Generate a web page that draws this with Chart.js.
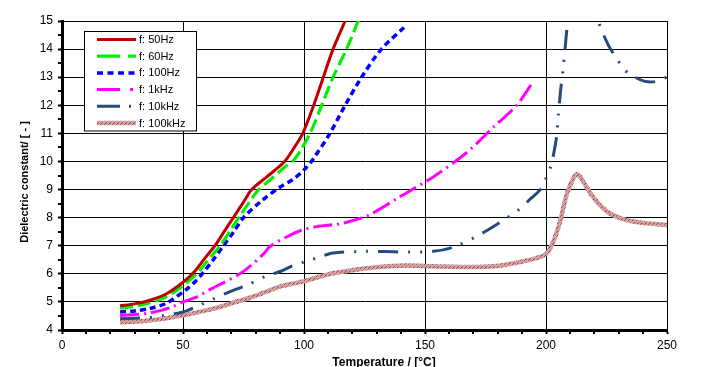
<!DOCTYPE html>
<html>
<head>
<meta charset="utf-8">
<script src="https://cdn.jsdelivr.net/npm/chart.js@4.4.1/dist/chart.umd.min.js"></script>
<style>
html,body{margin:0;padding:0;background:#fff;}
#wrap{width:712px;height:367px;position:relative;}
</style>
</head>
<body>
<div id="wrap"><canvas id="c" width="712" height="367"></canvas></div>
<script>
// ---------- data ----------
const seriesLabels = ['f: 50Hz', 'f: 60Hz', 'f: 100Hz', 'f: 1kHz', 'f: 10kHz', 'f: 100kHz'];

const t50  = [24, 30, 36, 43, 50, 55, 59, 63.2, 67, 70.8, 75, 78.4, 84.6, 92, 96, 99.5, 104, 108, 112, 117, 119];
const v50  = [4.86, 4.93, 5.05, 5.28, 5.7, 6.1, 6.55, 7.0, 7.5, 8.0, 8.55, 9.0, 9.45, 10.0, 10.5, 11.0, 12.0, 13.0, 14.0, 15.0, 15.4];

const t60  = [24, 30, 36, 43, 50, 55.6, 60, 65.3, 70, 73.5, 77, 81, 87, 92, 96.3, 102.5, 107.3, 112, 117.6, 122.4, 124];
const v60  = [4.78, 4.84, 4.96, 5.18, 5.58, 6.0, 6.45, 7.0, 7.6, 8.06, 8.5, 8.97, 9.42, 9.8, 10.1, 11.0, 12.0, 13.0, 14.0, 15.0, 15.3];

const t100 = [24, 30, 36, 43, 51.5, 55, 58.4, 62.5, 66.7, 71, 75, 82.5, 90, 95.6, 100, 103.9, 110.7, 117, 123.8, 132, 141.7];
const v100 = [4.64, 4.68, 4.76, 4.95, 5.45, 5.72, 6.05, 6.5, 7.0, 7.5, 8.0, 8.6, 9.08, 9.37, 9.7, 10.1, 11.0, 12.0, 13.0, 14.0, 14.8];

const t1k  = [24, 30, 35.6, 41, 45, 50, 55, 62.5, 66, 73.5, 77, 83.2, 86, 93, 99, 105.2, 116, 127, 139.7, 153.4, 167, 178, 187.9, 194];
const v1k  = [4.52, 4.55, 4.6, 4.7, 4.8, 5.0, 5.15, 5.5, 5.65, 6.0, 6.22, 6.7, 6.98, 7.32, 7.55, 7.68, 7.8, 8.1, 8.75, 9.45, 10.3, 11.2, 12.0, 12.75];

const t10k = [24, 30, 35.6, 42, 50, 56, 63.2, 69, 77, 84, 90.7, 95.6, 100, 106.6, 112, 126, 139.7, 153.4, 161.7, 174, 187.9, 194, 198.2, 200, 201.9, 203, 204.4, 205.1, 206, 207.2, 208.5, 210, 214, 218, 221.6, 225.7, 229.2, 232.6, 236.8, 240.9, 245.7, 250];
const v10k = [4.4, 4.42, 4.44, 4.52, 4.64, 4.85, 5.13, 5.35, 5.62, 5.9, 6.1, 6.3, 6.42, 6.6, 6.74, 6.8, 6.78, 6.8, 6.95, 7.46, 8.23, 8.7, 9.05, 9.4, 9.8, 10.2, 10.9, 11.65, 12.5, 13.4, 14.6, 15.8, 17.0, 16.2, 15.0, 14.15, 13.67, 13.25, 13.0, 12.85, 12.85, 13.0];

const t100k = [24, 30, 35.6, 43, 50, 56, 63.2, 70, 77, 84, 90.7, 100, 106.6, 112, 126, 139.7, 153.4, 167, 180.9, 189.3, 194.8, 200, 203, 205.8, 208.5, 211.3, 213, 215.4, 218.8, 222.3, 226.4, 233.3, 241.6, 250];
const v100k = [4.28, 4.3, 4.34, 4.42, 4.52, 4.63, 4.77, 4.95, 5.13, 5.35, 5.56, 5.74, 5.9, 6.02, 6.2, 6.29, 6.27, 6.24, 6.29, 6.42, 6.53, 6.7, 7.15, 7.86, 8.81, 9.4, 9.55, 9.28, 8.81, 8.45, 8.15, 7.91, 7.8, 7.74];

const xTickValues = [0, 50, 100, 150, 200, 250];
const yTickValues = [4, 5, 6, 7, 8, 9, 10, 11, 12, 13, 14, 15];
const xMinorTicks = [10, 20, 30, 40, 60, 70, 80, 90, 110, 120, 130, 140, 160, 170, 180, 190, 210, 220, 230, 240];
const yMinorTicks = [4.5, 5.5, 6.5, 7.5, 8.5, 9.5, 10.5, 11.5, 12.5, 13.5, 14.5];
const xTitle = 'Temperature / [°C]';
const yTitle = 'Dielectric constant/ [ - ]';

// ---------- styling ----------
const FONT = "'Liberation Sans', Arial, Helvetica, sans-serif";

function makeHatch() {
  const c = document.createElement('canvas');
  c.width = 4; c.height = 4;
  const g = c.getContext('2d');
  g.fillStyle = '#cfa3a3'; g.fillRect(0, 0, 4, 4);
  g.fillStyle = '#b35a5a';
  g.fillRect(0, 0, 1, 1); g.fillRect(2, 2, 1, 1);
  g.fillStyle = '#a03030';
  g.fillRect(1, 3, 1, 1);
  return document.getElementById('c').getContext('2d').createPattern(c, 'repeat');
}
const hatch = makeHatch();

function pts(xs, ys) { return xs.map((x, i) => ({ x: x, y: ys[i] })); }

const seriesData = [pts(t50, v50), pts(t60, v60), pts(t100, v100), pts(t1k, v1k), pts(t10k, v10k), pts(t100k, v100k)];
const colors = ['#c00000', '#00f000', '#0000ff', '#ff00ff', '#244a7e', hatch];
const widths = [3, 3.2, 3.5, 3, 3, 4.5];
const dashes = [[], [13, 5], [6, 4], [19, 5, 2, 5], [20, 10, 2, 10, 2, 10], []];
const legendDashes = [[], [23, 8], [6, 4.5], [23, 10, 3, 10], [23, 9, 2, 10], []];

const datasets = seriesData.map((d, i) => ({
  label: seriesLabels[i],
  data: d,
  borderColor: colors[i],
  backgroundColor: colors[i],
  borderWidth: widths[i],
  borderDash: dashes[i],
  borderCapStyle: 'butt',
  borderJoinStyle: 'round',
  pointRadius: 0,
  pointHoverRadius: 0,
  fill: false,
  tension: 0.3
}));

const decor = {
  id: 'decor',
  afterDraw(chart) {
    const ctx = chart.ctx, xs = chart.scales.x, ys = chart.scales.y, a = chart.chartArea;
    ctx.save();
    // minor ticks
    ctx.setLineDash([]);
    ctx.strokeStyle = '#000';
    ctx.lineWidth = 2;
    xMinorTicks.forEach(v => {
      const px = Math.round(xs.getPixelForValue(v));
      ctx.beginPath(); ctx.moveTo(px, a.bottom); ctx.lineTo(px, a.bottom + 4); ctx.stroke();
    });
    yMinorTicks.forEach(v => {
      const py = Math.round(ys.getPixelForValue(v));
      ctx.beginPath(); ctx.moveTo(a.left - 4, py); ctx.lineTo(a.left, py); ctx.stroke();
    });

    // legend box
    const bx = 84.5, by = 31.5, bw = 112, bh = 99.5;
    ctx.fillStyle = '#fff';
    ctx.fillRect(bx, by, bw, bh);
    ctx.lineWidth = 1;
    ctx.strokeStyle = '#000';
    ctx.strokeRect(bx, by, bw, bh);
    chart.data.datasets.forEach((ds, i) => {
      const y = 39.5 + i * 16.7;
      ctx.beginPath();
      ctx.setLineDash(legendDashes[i]);
      ctx.lineCap = 'butt';
      ctx.strokeStyle = ds.borderColor;
      ctx.lineWidth = ds.borderWidth;
      ctx.moveTo(97, y); ctx.lineTo(136, y);
      ctx.stroke();
      ctx.setLineDash([]);
      ctx.fillStyle = '#000';
      ctx.font = '11px ' + FONT;
      ctx.textAlign = 'left';
      ctx.textBaseline = 'middle';
      ctx.fillText(ds.label, 139, y + 0.5);
    });

    // axis titles
    ctx.fillStyle = '#000';
    ctx.font = 'bold 12px ' + FONT;
    ctx.textAlign = 'center';
    ctx.textBaseline = 'middle';
    ctx.fillText(xTitle, 384, 363);
    ctx.save();
    ctx.translate(25, 182);
    ctx.rotate(-Math.PI / 2);
    ctx.font = 'bold 11px ' + FONT;
    ctx.fillText(yTitle, 0, 0);
    ctx.restore();
    ctx.restore();
  }
};

new Chart(document.getElementById('c'), {
  type: 'line',
  data: { datasets: datasets },
  options: {
    responsive: false,
    animation: false,
    devicePixelRatio: 1,
    layout: { padding: { top: 21, right: 45, left: 0, bottom: 0 } },
    plugins: { legend: { display: false }, tooltip: { enabled: false }, title: { display: false } },
    scales: {
      x: {
        type: 'linear',
        min: 0, max: 250,
        afterFit(s) { s.height = 37; },
        afterBuildTicks(s) { s.ticks = xTickValues.map(v => ({ value: v })); },
        ticks: { color: '#000', font: { family: FONT, size: 12 }, padding: 4, maxRotation: 0 },
        grid: { color: '#000', lineWidth: 1, drawTicks: true, tickLength: 4, tickColor: '#000', tickWidth: 2 },
        border: { display: true, color: '#000', width: 3 }
      },
      y: {
        type: 'linear',
        min: 4, max: 15,
        afterFit(s) { s.width = 62; },
        afterBuildTicks(s) { s.ticks = yTickValues.map(v => ({ value: v })); },
        ticks: { color: '#000', font: { family: FONT, size: 12 }, padding: 5 },
        grid: { color: '#000', lineWidth: 1, drawTicks: true, tickLength: 4, tickColor: '#000', tickWidth: 2 },
        border: { display: true, color: '#000', width: 3 }
      }
    }
  },
  plugins: [decor]
});
</script>
</body>
</html>
